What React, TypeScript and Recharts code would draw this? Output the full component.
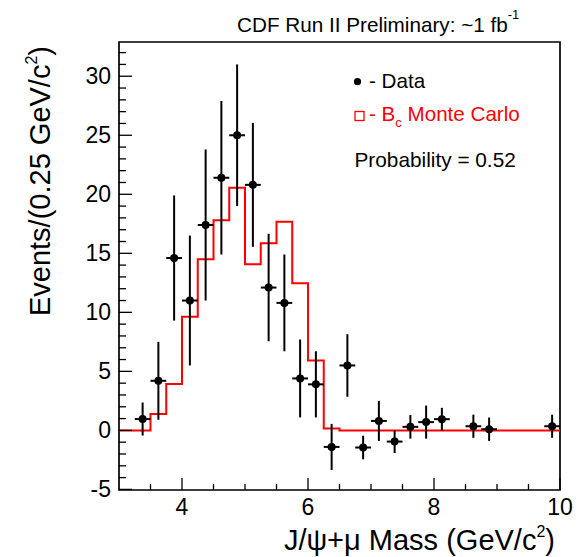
import React from 'react';
import { ComposedChart, Line, Scatter, XAxis, YAxis, ErrorBar, ReferenceArea } from 'recharts';

// Data points (bin centres, GeV/c^2) and event counts with errors
const dataMass = [3.375, 3.625, 3.875, 4.125, 4.375, 4.625, 4.875, 5.125, 5.375, 5.625, 5.875, 6.125, 6.375, 6.625, 6.875, 7.125, 7.375, 7.625, 7.875, 8.125, 8.625, 8.875, 9.875];
const dataEvents = [0.96, 4.2, 14.6, 11.0, 17.4, 21.4, 25.0, 20.8, 12.1, 10.8, 4.4, 3.9, -1.4, 5.5, -1.45, 0.8, -0.95, 0.3, 0.7, 0.95, 0.35, 0.1, 0.35];
const dataErr = [1.4, 3.3, 5.3, 5.5, 6.4, 6.5, 6.0, 5.25, 4.55, 4.1, 3.3, 2.8, 1.95, 2.65, 1.0, 1.7, 0.97, 1.0, 1.4, 0.96, 0.98, 0.99, 0.98];
const binHalfWidth = 0.125;

// Bc Monte Carlo histogram (bin lower edges, last entry is the upper edge)
const mcBinLow = [3.0, 3.25, 3.5, 3.75, 4.0, 4.25, 4.5, 4.75, 5.0, 5.25, 5.5, 5.75, 6.0, 6.25, 6.5, 6.75, 7.0, 7.25, 7.5, 7.75, 8.0, 8.25, 8.5, 8.75, 9.0, 9.25, 9.5, 9.75, 10.0];
const mcEvents = [0, 0, 1.38, 3.92, 9.63, 14.5, 17.8, 20.56, 14.07, 15.85, 17.68, 12.46, 5.93, 0.17, 0, 0, 0, 0, 0, 0, 0, 0, 0, 0, 0, 0, 0, 0, 0];

// Axes
const xDomain = [3, 10];
const yDomain = [-5.05, 32.9];
const xTicks = [3.5, 4, 4.5, 5, 5.5, 6, 6.5, 7, 7.5, 8, 8.5, 9, 9.5, 10];
const xTickLabels = [4, 6, 8, 10];
const yTicks = [-5, -4, -3, -2, -1, 0, 1, 2, 3, 4, 5, 6, 7, 8, 9, 10, 11, 12, 13, 14, 15, 16, 17, 18, 19, 20, 21, 22, 23, 24, 25, 26, 27, 28, 29, 30, 31, 32];
const yTickLabels = [-5, 0, 5, 10, 15, 20, 25, 30];

const points = dataMass.map((x, i) => ({ x, y: dataEvents[i], ey: dataErr[i], ex: binHalfWidth }));
const mc = mcBinLow.map((x, i) => ({ x, y: mcEvents[i] }));

const FONT = '"Liberation Sans", Arial, Helvetica, sans-serif';

const YTick = (p: any) => {
  const v = p.payload.value;
  const major = yTickLabels.includes(v);
  return (
    <g>
      <line x1={p.x} x2={p.x + (major ? 13 : 7)} y1={p.y} y2={p.y} stroke="#000" strokeWidth={1.3} />
      {major && (
        <text x={p.x - 8} y={p.y} dy="0.33em" textAnchor="end" fontSize={23} fontFamily={FONT} fill="#000">
          {v}
        </text>
      )}
    </g>
  );
};

const XTick = (p: any) => {
  const v = p.payload.value;
  const major = xTickLabels.includes(v);
  return (
    <g>
      <line x1={p.x} x2={p.x} y1={p.y} y2={p.y - (major ? 12 : 6)} stroke="#000" strokeWidth={1.3} />
      {major && (
        <text x={p.x} y={p.y + 25} textAnchor="middle" fontSize={23} fontFamily={FONT} fill="#000">
          {v}
        </text>
      )}
    </g>
  );
};

const Dot = (p: any) => <circle cx={p.cx} cy={p.cy} r={4} fill="#000" />;

export default function App() {
  return (
    <div style={{ position: 'absolute', left: 0, top: 0, width: 579, height: 557, background: '#fff' }}>
      <ComposedChart width={579} height={557} margin={{ top: 42, right: 19, bottom: 0, left: 0 }}>
        <XAxis
          dataKey="x"
          type="number"
          domain={xDomain}
          ticks={xTicks}
          interval={0}
          allowDataOverflow
          axisLine={false}
          tickLine={false}
          tickSize={0}
          tickMargin={0}
          height={67}
          tick={(p: any) => <XTick {...p} />}
        />
        <YAxis
          type="number"
          domain={yDomain}
          ticks={yTicks}
          interval={0}
          allowDataOverflow
          axisLine={false}
          tickLine={false}
          tickSize={0}
          tickMargin={0}
          width={119}
          tick={(p: any) => <YTick {...p} />}
        />
        <ReferenceArea x1={xDomain[0]} x2={xDomain[1]} y1={yDomain[0]} y2={yDomain[1]} fill="none" stroke="#000" strokeWidth={1.7} fillOpacity={0} />
        <Line
          data={mc}
          dataKey="y"
          type="stepAfter"
          stroke="#ff0000"
          strokeWidth={2}
          dot={false}
          activeDot={false}
          isAnimationActive={false}
        />
        <Scatter data={points} dataKey="y" fill="#000" shape={(p: any) => <Dot {...p} />} isAnimationActive={false}>
          <ErrorBar dataKey="ey" direction="y" width={0} stroke="#000" strokeWidth={2} isAnimationActive={false} />
          <ErrorBar dataKey="ex" direction="x" width={0} stroke="#000" strokeWidth={2} isAnimationActive={false} />
        </Scatter>
      </ComposedChart>
      <svg width={579} height={557} style={{ position: 'absolute', left: 0, top: 0, pointerEvents: 'none' }} fontFamily={FONT}>
        <text x={237} y={31.5} fontSize={20.7} fill="#000">
          CDF Run II Preliminary: ~1 fb<tspan dy={-13} fontSize={13}>-1</tspan>
        </text>
        <circle cx={357.5} cy={81.7} r={3.6} fill="#000" />
        <text x={369} y={87.8} fontSize={20.6} fill="#000">- Data</text>
        <rect x={355} y={111.5} width={9} height={9} fill="none" stroke="#ff0000" strokeWidth={1.3} />
        <text x={369} y={120.5} fontSize={20.6} fill="#ff0000">
          - B<tspan dy={6} fontSize={13}>c</tspan><tspan dy={-6}> Monte Carlo</tspan>
        </text>
        <text x={354.5} y={166.7} fontSize={20.8} fill="#000">Probability = 0.52</text>
        <text x={555} y={550} textAnchor="end" fontSize={29} fill="#000">
          J/ψ+μ Mass (GeV/c<tspan dy={-13} fontSize={16}>2</tspan><tspan dy={13}>)</tspan>
        </text>
        <text transform="translate(50,46) rotate(-90)" textAnchor="end" fontSize={29} fill="#000">
          Events/(0.25 GeV/c<tspan dy={-13} fontSize={16}>2</tspan><tspan dy={13}>)</tspan>
        </text>
      </svg>
    </div>
  );
}
